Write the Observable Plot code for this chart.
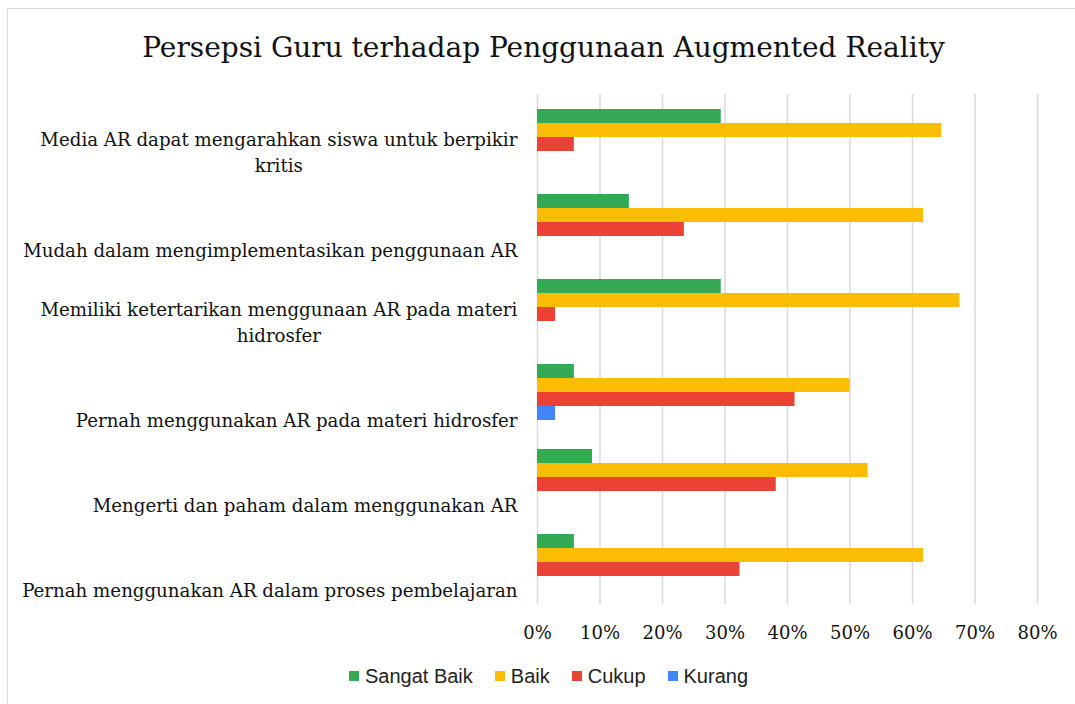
<!DOCTYPE html>
<html>
<head>
<meta charset="utf-8">
<script src="https://cdn.jsdelivr.net/npm/d3@7"></script>
<script src="https://cdn.jsdelivr.net/npm/@observablehq/plot@0.6"></script>
<style>
  html, body { margin: 0; padding: 0; background: #fff; }
  #wrap { position: relative; width: 1075px; height: 704px; overflow: hidden; background: #fff; }
  #frame { position: absolute; left: 7px; top: 8px; width: 2000px; height: 2000px; border: 1.5px solid #d9d9d9; box-sizing: border-box; }
  #title { position: absolute; top: 28px; left: 0; width: 1075px; box-sizing: border-box; padding-left: 12px; text-align: center;
           font-family: "DejaVu Serif", serif; font-size: 28px; line-height: 40px; color: #111; }
  #chart { position: absolute; top: 70px; left: 0; }
  #legend { position: absolute; top: 664px; left: 0; width: 1075px; box-sizing: border-box; padding-left: 22px;
            display: flex; justify-content: center; align-items: center;
            font-family: "Liberation Sans", Arial, sans-serif; font-size: 20px; line-height: 24px; color: #222; }
  .item { display: flex; align-items: center; margin: 0 11px; }
  .sw { width: 10px; height: 10px; margin-right: 6px; }
</style>
</head>
<body>
<div id="wrap">
  <div id="frame"></div>
  <div id="title">Persepsi Guru terhadap Penggunaan Augmented Reality</div>
  <div id="chart"></div>
  <div id="legend"></div>
</div>
<script>
const titleText = "Persepsi Guru terhadap Penggunaan Augmented Reality";
const categories = [
  "Media AR dapat mengarahkan siswa untuk berpikir kritis",
  "Mudah dalam mengimplementasikan penggunaan AR",
  "Memiliki ketertarikan menggunaan AR pada materi hidrosfer",
  "Pernah menggunakan AR pada materi hidrosfer",
  "Mengerti dan paham dalam menggunakan AR",
  "Pernah menggunakan AR dalam proses pembelajaran"
];
const categoryLabels = [
  "Media AR dapat mengarahkan siswa untuk berpikir\nkritis",
  "Mudah dalam mengimplementasikan penggunaan AR",
  "Memiliki ketertarikan menggunaan AR pada materi\nhidrosfer",
  "Pernah menggunakan AR pada materi hidrosfer",
  "Mengerti dan paham dalam menggunakan AR",
  "Pernah menggunakan AR dalam proses pembelajaran"
];
const series = ["Sangat Baik", "Baik", "Cukup", "Kurang"];
const colors = ["#34A853", "#FBBC04", "#EA4335", "#4285F4"];
const sangatBaik = [29.4, 14.7, 29.4, 5.9, 8.8, 5.9];
const baik       = [64.7, 61.8, 67.6, 50.0, 52.9, 61.8];
const cukup      = [5.9, 23.5, 2.9, 41.2, 38.2, 32.4];
const kurang     = [0, 0, 0, 2.9, 0, 0];
const xTicks = [0, 10, 20, 30, 40, 50, 60, 70, 80];

const seriesValues = [sangatBaik, baik, cukup, kurang];
const rows = categories.flatMap((c, i) => series.map((s, j) => ({
  category: c, label: categoryLabels[i], series: s, value: seriesValues[j][i]
})));

const chart = Plot.plot({
  width: 1075,
  height: 590,
  marginTop: 24,
  marginBottom: 56,
  marginLeft: 537,
  marginRight: 38,
  style: { fontFamily: "DejaVu Serif, serif", fontSize: "18px", color: "#111", background: "transparent" },
  facet: { data: rows, y: "category" },
  fy: { domain: categories, padding: 0, axis: null, label: null },
  y: { domain: series, paddingInner: 0, paddingOuter: 0.88, axis: null, label: null },
  x: { domain: [0, 80], ticks: xTicks, tickFormat: d => d + "%", tickSize: 0, tickPadding: 22, label: null },
  color: { domain: series, range: colors },
  marks: [
    Plot.ruleX(xTicks, { stroke: "#d9d9d9", strokeWidth: 1.5 }),
    Plot.barX(rows, { x: "value", y: "series", fill: "series" }),
    Plot.text(rows, {
      filter: d => d.series === series[0],
      text: "label",
      frameAnchor: "left",
      dx: -20,
      dy: 35,
      textAnchor: "end",
      lineAnchor: "bottom",
      lineHeight: 1.43,
      fontSize: 18.2,
      fill: "#111"
    })
  ]
});
document.getElementById("chart").appendChild(chart);

// center the lines of multi-line category labels on each other (as in the reference)
chart.querySelectorAll("text").forEach(t => {
  if (t.querySelectorAll("tspan").length > 1) {
    const w = t.getBBox().width;
    t.setAttribute("text-anchor", "middle");
    const tr = t.getAttribute("transform") || "";
    t.setAttribute("transform", tr + ` translate(${-w / 2},0)`);
  }
});

const legend = document.getElementById("legend");
series.forEach((s, i) => {
  const item = document.createElement("div");
  item.className = "item";
  const sw = document.createElement("div");
  sw.className = "sw";
  sw.style.background = colors[i];
  const lab = document.createElement("span");
  lab.textContent = s;
  item.appendChild(sw);
  item.appendChild(lab);
  legend.appendChild(item);
});
</script>
</body>
</html>
